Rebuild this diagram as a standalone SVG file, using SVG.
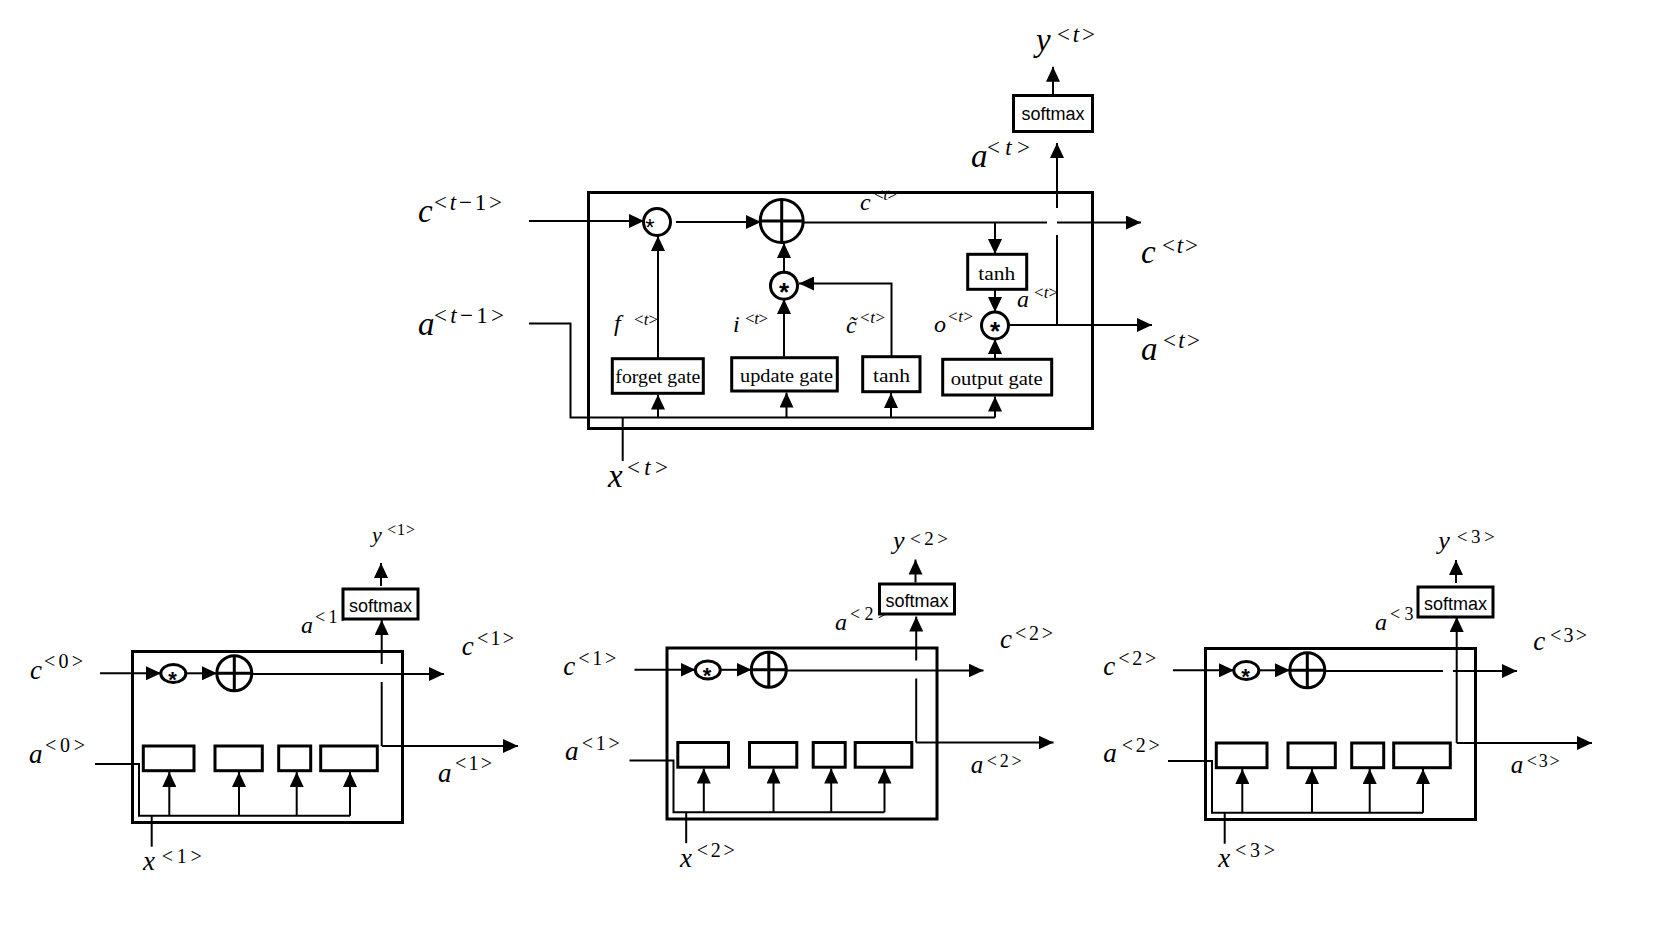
<svg xmlns="http://www.w3.org/2000/svg" width="1658" height="926" viewBox="0 0 1658 926">
<defs>
<marker id="ah" viewBox="0 0 15 14" markerWidth="15" markerHeight="14" refX="15" refY="7" orient="auto" markerUnits="userSpaceOnUse">
<path d="M0,0 L15,7 L0,14 Z" fill="#000"/>
</marker>
</defs>
<style>
.ln{fill:none;stroke:#000;stroke-width:2}
.ar{marker-end:url(#ah)}
.box{fill:#fff;stroke:#000;stroke-width:3}
.frame{fill:none;stroke:#000;stroke-width:3}
.op{fill:#fff;stroke:#000;stroke-width:3}
.m{font-family:"Liberation Serif","Times New Roman",serif;font-style:italic;fill:#000}
.s{font-family:"Liberation Serif","Times New Roman",serif;fill:#000}
.g{font-family:"Liberation Serif","Times New Roman",serif;font-size:19px;text-anchor:middle;fill:#000}
.sm{font-family:"Liberation Sans",Arial,sans-serif;font-size:18px;text-anchor:middle;fill:#000}
.st{font-family:"Liberation Sans",Arial,sans-serif;text-anchor:middle;fill:#000}
.i{font-style:italic}
</style>
<rect width="1658" height="926" fill="#fff"/>

<!-- ===== Top detailed LSTM cell ===== -->
<g id="top-labels">
<text class="m" x="418" y="222" font-size="33">c</text>
<text class="s" x="434" y="210" font-size="23" textLength="68" lengthAdjust="spacing">&lt;<tspan class="i">t</tspan>−1&gt;</text>
<text class="m" x="418" y="335" font-size="33">a</text>
<text class="s" x="434" y="323" font-size="23" textLength="70" lengthAdjust="spacing">&lt;<tspan class="i">t</tspan>−1&gt;</text>
<text class="m" x="608" y="487" font-size="33">x</text>
<text class="s" x="627" y="475" font-size="23" textLength="41" lengthAdjust="spacing">&lt;<tspan class="i">t</tspan>&gt;</text>
<text class="m" x="1036" y="51" font-size="33">y</text>
<text class="s" x="1057" y="42" font-size="23" textLength="38" lengthAdjust="spacing">&lt;<tspan class="i">t</tspan>&gt;</text>
<text class="m" x="971" y="167" font-size="33">a</text>
<text class="s" x="987" y="155" font-size="23" textLength="43" lengthAdjust="spacing">&lt;<tspan class="i">t</tspan>&gt;</text>
<text class="m" x="1141" y="263" font-size="33">c</text>
<text class="s" x="1162" y="253" font-size="23" textLength="36" lengthAdjust="spacing">&lt;<tspan class="i">t</tspan>&gt;</text>
<text class="m" x="1141" y="360" font-size="33">a</text>
<text class="s" x="1163" y="348" font-size="23" textLength="37" lengthAdjust="spacing">&lt;<tspan class="i">t</tspan>&gt;</text>
<text class="m" x="614" y="331" font-size="24">f</text>
<text class="s" x="634" y="325" font-size="17" textLength="24" lengthAdjust="spacing">&lt;<tspan class="i">t</tspan>&gt;</text>
<text class="m" x="733" y="332" font-size="24">i</text>
<text class="s" x="745" y="324" font-size="17" textLength="23" lengthAdjust="spacing">&lt;<tspan class="i">t</tspan>&gt;</text>
<text class="m" x="846" y="333" font-size="24">c̃</text>
<text class="s" x="860" y="323" font-size="17" textLength="25" lengthAdjust="spacing">&lt;<tspan class="i">t</tspan>&gt;</text>
<text class="m" x="934" y="332" font-size="24">o</text>
<text class="s" x="948" y="322" font-size="17" textLength="25" lengthAdjust="spacing">&lt;<tspan class="i">t</tspan>&gt;</text>
<text class="m" x="860" y="210" font-size="24">c</text>
<text class="s" x="874" y="200" font-size="17" textLength="23" lengthAdjust="spacing">&lt;<tspan class="i">t</tspan>&gt;</text>
<text class="m" x="1017" y="307" font-size="24">a</text>
<text class="s" x="1034" y="298" font-size="17" textLength="24" lengthAdjust="spacing">&lt;<tspan class="i">t</tspan>&gt;</text>
</g>

<g id="top-frame"><rect class="frame" x="588.5" y="192.5" width="504" height="236"/></g>

<g id="top-connectors" class="ln">
<path class="ar" d="M529,221 H644"/>
<path class="ar" d="M676,222 H761"/>
<path d="M803,222.5 H1047"/>
<path class="ar" d="M1057,222.5 H1141"/>
<path class="ar" d="M995,222.5 V254"/>
<path class="ar" d="M995,289 V312"/>
<path class="ar" d="M995,359 V339"/>
<path class="ar" d="M1008,325 H1152"/>
<path d="M1057,325 V235"/>
<path class="ar" d="M1057,208 V143"/>
<path class="ar" d="M784,272 V243"/>
<path class="ar" d="M784,357 V299"/>
<path class="ar" d="M891.5,357 V283.5 H799"/>
<path class="ar" d="M658,359 V236"/>
<path d="M529,323.5 H570.5 V417.5 H995"/>
<path class="ar" d="M658,417.5 V394.5"/>
<path class="ar" d="M786.5,417.5 V392.5"/>
<path class="ar" d="M891,417.5 V393"/>
<path class="ar" d="M995,417.5 V396.5"/>
<path d="M622.7,417.5 V461"/>
<path class="ar" d="M1053,95 V66.7"/>
</g>

<g id="top-forget-mult">
<circle class="op" cx="657" cy="222" r="13.5"/>
<text class="st" x="650" y="236" font-size="24">*</text>
</g>
<g id="top-plus">
<circle class="op" cx="781.7" cy="221" r="21.5" stroke-width="3.5"/>
<path d="M760.2,221 H803.2 M781.7,199.5 V242.5" stroke="#000" stroke-width="3" fill="none"/>
</g>
<g id="top-update-mult">
<circle class="op" cx="784" cy="285.7" r="13.5"/>
<text class="st" x="784" y="300.5" font-size="26" font-weight="bold">*</text>
</g>
<g id="top-output-mult">
<circle class="op" cx="995" cy="325.5" r="13.5"/>
<text class="st" x="995" y="340.3" font-size="26" font-weight="bold">*</text>
</g>
<g id="top-forget-gate">
<rect class="box" x="612.3" y="358.7" width="91" height="34.6"/>
<text class="g" x="657.8" y="383" textLength="85" lengthAdjust="spacingAndGlyphs">forget gate</text>
</g>
<g id="top-update-gate">
<rect class="box" x="731.7" y="357.7" width="105.6" height="33.3"/>
<text class="g" x="786.5" y="381.7" textLength="93" lengthAdjust="spacingAndGlyphs">update gate</text>
</g>
<g id="top-tanh-gate">
<rect class="box" x="862.7" y="356.7" width="57.3" height="35"/>
<text class="g" x="891.5" y="382.3" textLength="37" lengthAdjust="spacingAndGlyphs">tanh</text>
</g>
<g id="top-output-gate">
<rect class="box" x="942.7" y="359.3" width="109" height="35.7"/>
<text class="g" x="996.7" y="385" textLength="92" lengthAdjust="spacingAndGlyphs">output gate</text>
</g>
<g id="top-tanh-out">
<rect class="box" x="967.7" y="254.3" width="59" height="35"/>
<text class="g" x="996.7" y="280" textLength="37" lengthAdjust="spacingAndGlyphs">tanh</text>
</g>
<g id="top-softmax">
<rect class="box" x="1013.5" y="95.5" width="79" height="36"/>
<text class="sm" x="1053" y="120">softmax</text>
</g>

<!-- ===== Bottom unrolled cells ===== -->
<g id="bottom-labels">
<!-- cell 1 -->
<text class="m" x="30" y="679" font-size="27">c</text>
<text class="s" x="44" y="668.3" font-size="20" textLength="39" lengthAdjust="spacing">&lt;0&gt;</text>
<text class="m" x="29" y="763" font-size="27">a</text>
<text class="s" x="45" y="751.7" font-size="20" textLength="40" lengthAdjust="spacing">&lt;0&gt;</text>
<text class="m" x="372" y="542" font-size="22">y</text>
<text class="s" x="387" y="535" font-size="16" textLength="28" lengthAdjust="spacing">&lt;1&gt;</text>
<text class="m" x="301" y="633" font-size="24">a</text>
<text class="s" x="315" y="623" font-size="18" textLength="36" lengthAdjust="spacing">&lt;1&gt;</text>
<text class="m" x="461.7" y="655" font-size="27">c</text>
<text class="s" x="477" y="645" font-size="20" textLength="37" lengthAdjust="spacing">&lt;1&gt;</text>
<text class="m" x="438" y="781.7" font-size="27">a</text>
<text class="s" x="455" y="770" font-size="20" textLength="37" lengthAdjust="spacing">&lt;1&gt;</text>
<text class="m" x="143" y="870" font-size="27">x</text>
<text class="s" x="161.7" y="863" font-size="20" textLength="40" lengthAdjust="spacing">&lt;1&gt;</text>
<!-- cell 2 -->
<text class="m" x="563.3" y="675" font-size="27">c</text>
<text class="s" x="578.3" y="665" font-size="20" textLength="38" lengthAdjust="spacing">&lt;1&gt;</text>
<text class="m" x="565" y="760" font-size="27">a</text>
<text class="s" x="581.7" y="750" font-size="20" textLength="38" lengthAdjust="spacing">&lt;1&gt;</text>
<text class="m" x="680" y="866.7" font-size="27">x</text>
<text class="s" x="696.7" y="856.7" font-size="20" textLength="38" lengthAdjust="spacing">&lt;2&gt;</text>
<text class="m" x="893" y="549" font-size="26">y</text>
<text class="s" x="910" y="545" font-size="19" textLength="38" lengthAdjust="spacing">&lt;2&gt;</text>
<text class="m" x="835" y="630" font-size="24">a</text>
<text class="s" x="850" y="620" font-size="18" textLength="38" lengthAdjust="spacing">&lt;2&gt;</text>
<text class="m" x="1000" y="648.3" font-size="27">c</text>
<text class="s" x="1015" y="640" font-size="20" textLength="38" lengthAdjust="spacing">&lt;2&gt;</text>
<text class="m" x="970.7" y="773.3" font-size="25">a</text>
<text class="s" x="986.7" y="766.7" font-size="18" textLength="35" lengthAdjust="spacing">&lt;2&gt;</text>
<!-- cell 3 -->
<text class="m" x="1103.3" y="675" font-size="27">c</text>
<text class="s" x="1118.3" y="665" font-size="20" textLength="38" lengthAdjust="spacing">&lt;2&gt;</text>
<text class="m" x="1103.3" y="761.7" font-size="27">a</text>
<text class="s" x="1121.7" y="751.7" font-size="20" textLength="38" lengthAdjust="spacing">&lt;2&gt;</text>
<text class="m" x="1218.3" y="866.7" font-size="27">x</text>
<text class="s" x="1235" y="856.7" font-size="20" textLength="40" lengthAdjust="spacing">&lt;3&gt;</text>
<text class="m" x="1438.3" y="549" font-size="26">y</text>
<text class="s" x="1456.7" y="543.3" font-size="19" textLength="38" lengthAdjust="spacing">&lt;3&gt;</text>
<text class="m" x="1375" y="630" font-size="24">a</text>
<text class="s" x="1390" y="620" font-size="18" textLength="38" lengthAdjust="spacing">&lt;3&gt;</text>
<text class="m" x="1533.3" y="650" font-size="27">c</text>
<text class="s" x="1550" y="641.7" font-size="20" textLength="37" lengthAdjust="spacing">&lt;3&gt;</text>
<text class="m" x="1510.7" y="773.3" font-size="25">a</text>
<text class="s" x="1526.7" y="766.7" font-size="18" textLength="33" lengthAdjust="spacing">&lt;3&gt;</text>
</g>

<g id="cell1">
<g id="cell1-frame"><rect class="frame" x="132.5" y="651.5" width="270" height="171"/></g>
<g id="cell1-connectors" class="ln">
<path class="ar" d="M100,673.3 H161"/>
<path class="ar" d="M186,673.3 H217"/>
<path class="ar" d="M252,674 H444"/>
<path d="M381.7,746 V682"/>
<path class="ar" d="M381.7,664 V620"/>
<path class="ar" d="M381.7,746 H518"/>
<path class="ar" d="M381,586 V563"/>
<path d="M95,764 H139 V815.7 H350"/>
<path class="ar" d="M169.3,815.7 V772"/>
<path class="ar" d="M239,815.7 V772"/>
<path class="ar" d="M296.7,815.7 V772"/>
<path class="ar" d="M350,815.7 V772"/>
<path d="M151.7,815.7 V846.7"/>
</g>
<g id="cell1-mult"><ellipse class="op" cx="173.3" cy="673.5" rx="12.5" ry="9" stroke-width="2.5"/><text class="st" x="172.5" y="686.5" font-size="22" font-weight="bold">*</text></g>
<g id="cell1-plus"><circle class="op" cx="234.3" cy="673.3" r="17.5"/><path d="M216.8,673.3 H251.8 M234.3,655.8 V690.8" stroke="#000" stroke-width="3" fill="none"/></g>
<g id="cell1-forget"><rect class="box" x="143.3" y="746" width="50.7" height="24.7"/></g>
<g id="cell1-update"><rect class="box" x="215" y="746" width="47.3" height="24.7"/></g>
<g id="cell1-tanh"><rect class="box" x="278.7" y="746" width="32" height="24.7"/></g>
<g id="cell1-output"><rect class="box" x="320.7" y="746" width="56.6" height="24.7"/></g>
<g id="cell1-softmax"><rect class="box" x="343" y="589" width="75" height="30"/><text class="sm" x="380.5" y="611.7">softmax</text></g>
</g>

<g id="cell2" transform="translate(534.5,-3.5)">
<g id="cell2-frame"><rect class="frame" x="132.5" y="651.5" width="270" height="171"/></g>
<g id="cell2-connectors" class="ln">
<path class="ar" d="M100,673.3 H161"/>
<path class="ar" d="M186,673.3 H217"/>
<path class="ar" d="M252,674 H449"/>
<path d="M381.7,746 V682"/>
<path class="ar" d="M381.7,664 V620"/>
<path class="ar" d="M381.7,746 H519"/>
<path class="ar" d="M381,586 V563"/>
<path d="M95,764 H139 V815.7 H350"/>
<path class="ar" d="M169.3,815.7 V772"/>
<path class="ar" d="M239,815.7 V772"/>
<path class="ar" d="M296.7,815.7 V772"/>
<path class="ar" d="M350,815.7 V772"/>
<path d="M151.7,815.7 V846.7"/>
</g>
<g id="cell2-mult"><ellipse class="op" cx="173.3" cy="673.5" rx="12.5" ry="9" stroke-width="2.5"/><text class="st" x="172.5" y="686.5" font-size="22" font-weight="bold">*</text></g>
<g id="cell2-plus"><circle class="op" cx="234.3" cy="673.3" r="17.5"/><path d="M216.8,673.3 H251.8 M234.3,655.8 V690.8" stroke="#000" stroke-width="3" fill="none"/></g>
<g id="cell2-forget"><rect class="box" x="143.3" y="746" width="50.7" height="24.7"/></g>
<g id="cell2-update"><rect class="box" x="215" y="746" width="47.3" height="24.7"/></g>
<g id="cell2-tanh"><rect class="box" x="278.7" y="746" width="32" height="24.7"/></g>
<g id="cell2-output"><rect class="box" x="320.7" y="746" width="56.6" height="24.7"/></g>
<g id="cell2-softmax"><rect class="box" x="345" y="587.5" width="75" height="30"/><text class="sm" x="382.5" y="610">softmax</text></g>
</g>

<g id="cell3" transform="translate(1073,-3)">
<g id="cell3-frame"><rect class="frame" x="132.5" y="651.5" width="270" height="171"/></g>
<g id="cell3-connectors" class="ln">
<path class="ar" d="M100,673.3 H161"/>
<path class="ar" d="M186,673.3 H217"/>
<path d="M252,674 H370"/>
<path class="ar" d="M380,674 H444"/>
<path class="ar" d="M383.7,746 V620"/>
<path class="ar" d="M383.7,746 H519"/>
<path class="ar" d="M383,586 V563"/>
<path d="M95,764 H139 V815.7 H350"/>
<path class="ar" d="M169.3,815.7 V772"/>
<path class="ar" d="M239,815.7 V772"/>
<path class="ar" d="M296.7,815.7 V772"/>
<path class="ar" d="M350,815.7 V772"/>
<path d="M151.7,815.7 V846.7"/>
</g>
<g id="cell3-mult"><ellipse class="op" cx="173.3" cy="673.5" rx="12.5" ry="9" stroke-width="2.5"/><text class="st" x="172.5" y="686.5" font-size="22" font-weight="bold">*</text></g>
<g id="cell3-plus"><circle class="op" cx="234.3" cy="673.3" r="17.5"/><path d="M216.8,673.3 H251.8 M234.3,655.8 V690.8" stroke="#000" stroke-width="3" fill="none"/></g>
<g id="cell3-forget"><rect class="box" x="143.3" y="746" width="50.7" height="24.7"/></g>
<g id="cell3-update"><rect class="box" x="215" y="746" width="47.3" height="24.7"/></g>
<g id="cell3-tanh"><rect class="box" x="278.7" y="746" width="32" height="24.7"/></g>
<g id="cell3-output"><rect class="box" x="320.7" y="746" width="56.6" height="24.7"/></g>
<g id="cell3-softmax"><rect class="box" x="345" y="590" width="75" height="30"/><text class="sm" x="382.5" y="612.5">softmax</text></g>
</g>
</svg>
